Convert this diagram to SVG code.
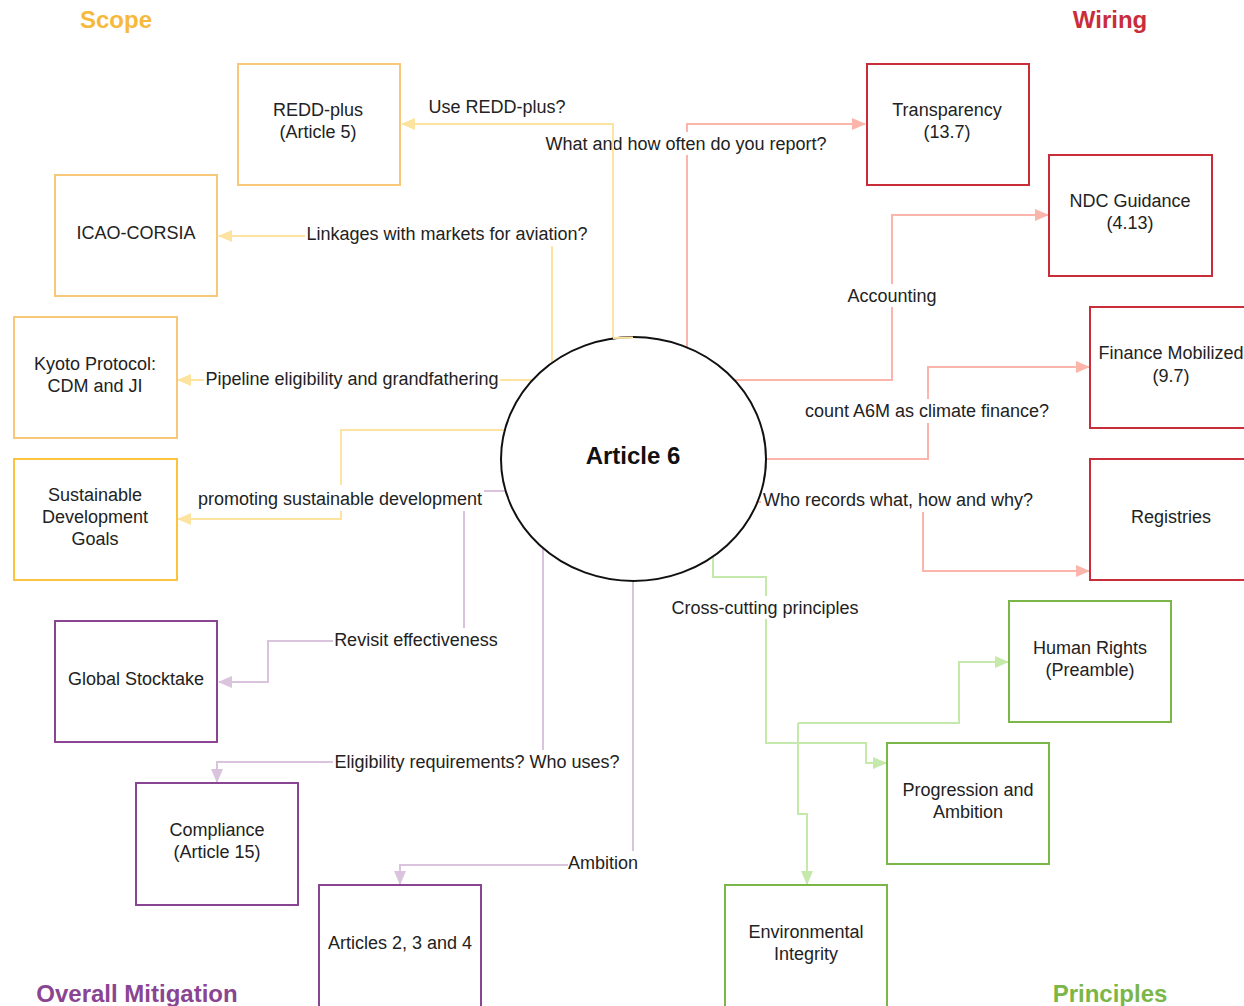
<svg xmlns="http://www.w3.org/2000/svg" width="1244" height="1006" viewBox="0 0 1244 1006">
<defs>
<style>
text{font-family:"Liberation Sans",Arial,sans-serif;font-size:18px;fill:#222;text-anchor:middle}
.title{font-size:24px;font-weight:bold}
.box{fill:#fff;stroke-width:2}
.scope{stroke:#f8c77a}
.sdg{stroke:#fbc43f}
.wire{stroke:#c92d39}
.mit{stroke:#8a4592}
.prin{stroke:#7ab648}
.c{fill:none;stroke-width:2}
.cy{stroke:#fde3a0}
.cr{stroke:#fbb5ab}
.cp{stroke:#dac3dd}
.cg{stroke:#c5e8ab}
.lbg{fill:#fff}
</style>
<marker id="ay" markerUnits="userSpaceOnUse" markerWidth="14" markerHeight="12" refX="13" refY="6" orient="auto"><path d="M0,0 L14,6 L0,12 z" fill="#fde3a0"/></marker>
<marker id="ar" markerUnits="userSpaceOnUse" markerWidth="14" markerHeight="12" refX="13" refY="6" orient="auto"><path d="M0,0 L14,6 L0,12 z" fill="#fbb5ab"/></marker>
<marker id="ap" markerUnits="userSpaceOnUse" markerWidth="14" markerHeight="12" refX="13" refY="6" orient="auto"><path d="M0,0 L14,6 L0,12 z" fill="#dac3dd"/></marker>
<marker id="ag" markerUnits="userSpaceOnUse" markerWidth="14" markerHeight="12" refX="13" refY="6" orient="auto"><path d="M0,0 L14,6 L0,12 z" fill="#c5e8ab"/></marker>
</defs>
<rect width="1244" height="1006" fill="#fff"/>

<g id="titles">
<text class="title" x="116" y="28" fill="#f6b93b" style="fill:#f6b93b">Scope</text>
<text class="title" x="1110" y="28" style="fill:#c92d39">Wiring</text>
<text class="title" x="137" y="1002" style="fill:#8a4592">Overall Mitigation</text>
<text class="title" x="1110" y="1002" style="fill:#7ab648">Principles</text>
</g>

<g id="connectors">
<!-- red -->
<path class="c cr" d="M687,347 L687,124 L865,124" marker-end="url(#ar)"/>
<path class="c cr" d="M735,380 L892,380 L892,215 L1048,215" marker-end="url(#ar)"/>
<path class="c cr" d="M766,459 L928,459 L928,367 L1089,367" marker-end="url(#ar)"/>
<path class="c cr" d="M757,502 L923,502 L923,571 L1089,571" marker-end="url(#ar)"/>
<!-- purple -->
<path class="c cp" d="M505,491 L464,491 L464,641 L268,641 L268,682 L219,682" marker-end="url(#ap)"/>
<path class="c cp" d="M543,548 L543,762 L217,762 L217,782" marker-end="url(#ap)"/>
<path class="c cp" d="M633,581 L633,865 L400,865 L400,884" marker-end="url(#ap)"/>
<!-- green -->
<path class="c cg" d="M713,556 L713,577 L766,577 L766,743 L866,743 L866,763 L886,763" marker-end="url(#ag)"/>
<path class="c cg" d="M798,723 L959,723 L959,662 L1008,662" marker-end="url(#ag)"/>
<path class="c cg" d="M798,723 L798,814 L807,814 L807,884" marker-end="url(#ag)"/>
<!-- yellow -->
<path class="c cy" d="M552,362 L552,236 L219,236" marker-end="url(#ay)"/>
<path class="c cy" d="M532,380 L178,380" marker-end="url(#ay)"/>
<path class="c cy" d="M505,430 L341,430 L341,519 L178,519" marker-end="url(#ay)"/>

<!-- labels -->
<text x="497" y="113">Use REDD-plus?</text>
<rect class="lbg" x="544" y="132" width="285" height="23"/>
<text x="686" y="150">What and how often do you report?</text>
<path class="c cy" d="M633,338 L613,338 L613,124 L402,124" marker-end="url(#ay)"/>
<rect class="lbg" x="305" y="222" width="285" height="24"/>
<text x="447" y="240">Linkages with markets for aviation?</text>
<rect class="lbg" x="204" y="367" width="296" height="23"/>
<text x="352" y="385">Pipeline eligibility and grandfathering</text>
<rect class="lbg" x="196" y="485" width="288" height="26"/>
<text x="340" y="505">promoting sustainable development</text>
<rect class="lbg" x="846" y="284" width="92" height="23"/>
<text x="892" y="302">Accounting</text>
<rect class="lbg" x="803" y="399" width="249" height="24"/>
<text x="927" y="417">count A6M as climate finance?</text>
<rect class="lbg" x="761" y="488" width="274" height="24"/>
<text x="898" y="506">Who records what, how and why?</text>
<rect class="lbg" x="670" y="596" width="190" height="23"/>
<text x="765" y="614">Cross-cutting principles</text>
<rect class="lbg" x="333" y="628" width="166" height="23"/>
<text x="416" y="646">Revisit effectiveness</text>
<rect class="lbg" x="333" y="750" width="288" height="23"/>
<text x="477" y="768">Eligibility requirements? Who uses?</text>
<rect class="lbg" x="568" y="851" width="70" height="23"/>
<text x="603" y="869">Ambition</text>
</g>

<g id="article6">
<ellipse cx="633.5" cy="459" rx="132.5" ry="122" fill="#fff" stroke="#111" stroke-width="2"/>
<path d="M613,338 L633,337.5" stroke="#fde3a0" stroke-width="2" fill="none"/>
<text x="633" y="464" style="font-size:24px;font-weight:bold;fill:#111">Article 6</text>
</g>

<g id="redd-plus"><rect class="box scope" x="238" y="64" width="162" height="121"/><text x="318" y="116">REDD-plus</text><text x="318" y="138">(Article 5)</text></g>
<g id="icao-corsia"><rect class="box scope" x="55" y="175" width="162" height="121"/><text x="136" y="239">ICAO-CORSIA</text></g>
<g id="kyoto"><rect class="box scope" x="14" y="317" width="163" height="121"/><text x="95" y="370">Kyoto Protocol:</text><text x="95" y="392">CDM and JI</text></g>
<g id="sdg"><rect class="box sdg" x="14" y="459" width="163" height="121"/><text x="95" y="501">Sustainable</text><text x="95" y="523">Development</text><text x="95" y="545">Goals</text></g>

<g id="transparency"><rect class="box wire" x="867" y="64" width="162" height="121"/><text x="947" y="116">Transparency</text><text x="947" y="138">(13.7)</text></g>
<g id="ndc-guidance"><rect class="box wire" x="1049" y="155" width="163" height="121"/><text x="1130" y="207">NDC Guidance</text><text x="1130" y="229">(4.13)</text></g>
<g id="finance-mobilized"><rect class="box wire" x="1090" y="307" width="163" height="121"/><text x="1171" y="359">Finance Mobilized</text><text x="1171" y="382">(9.7)</text></g>
<g id="registries"><rect class="box wire" x="1090" y="459" width="163" height="121"/><text x="1171" y="523">Registries</text></g>

<g id="global-stocktake"><rect class="box mit" x="55" y="621" width="162" height="121"/><text x="136" y="685">Global Stocktake</text></g>
<g id="compliance"><rect class="box mit" x="136" y="783" width="162" height="122"/><text x="217" y="836">Compliance</text><text x="217" y="858">(Article 15)</text></g>
<g id="articles-234"><rect class="box mit" x="319" y="885" width="162" height="125"/><text x="400" y="949">Articles 2, 3 and 4</text></g>

<g id="human-rights"><rect class="box prin" x="1009" y="601" width="162" height="121"/><text x="1090" y="654">Human Rights</text><text x="1090" y="676">(Preamble)</text></g>
<g id="progression"><rect class="box prin" x="887" y="743" width="162" height="121"/><text x="968" y="796">Progression and</text><text x="968" y="818">Ambition</text></g>
<g id="environmental-integrity"><rect class="box prin" x="725" y="885" width="162" height="125"/><text x="806" y="938">Environmental</text><text x="806" y="960">Integrity</text></g>
</svg>
